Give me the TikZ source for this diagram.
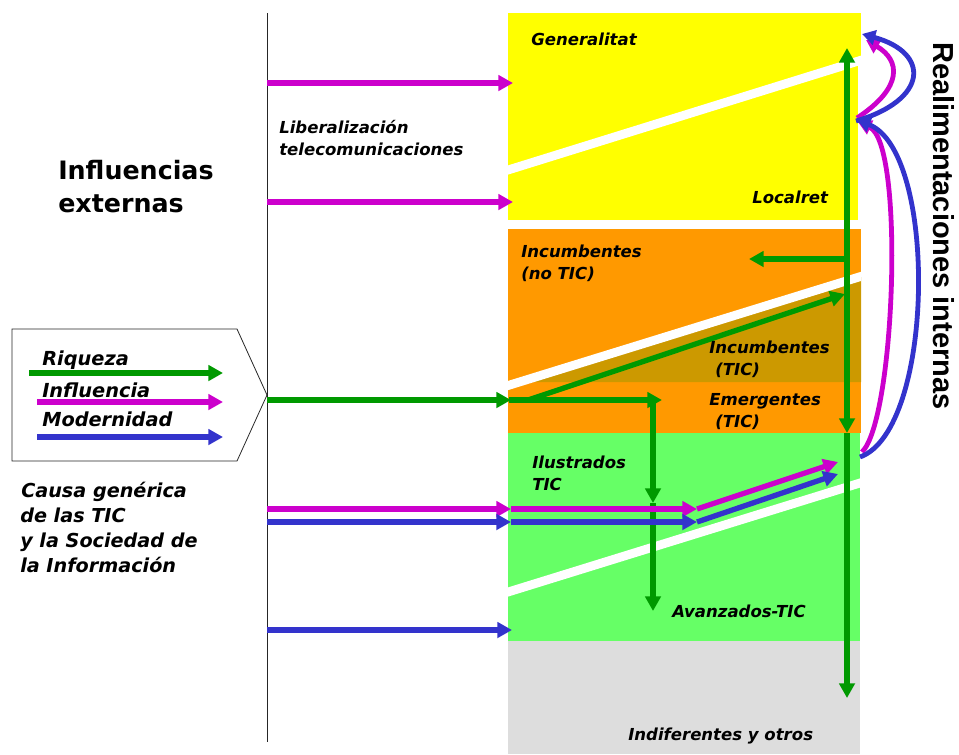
\documentclass[tikz,border=0pt]{standalone}
\usepackage{fontspec}
\setmainfont{DejaVu Sans}[ItalicFont={DejaVu Sans Oblique},BoldFont={DejaVu Sans Bold},BoldItalicFont={DejaVu Sans Bold Oblique}]
\newfontfamily\headfont{Liberation Sans}[UprightFont={Liberation Sans Bold},BoldFont={Liberation Sans Bold}]
\usetikzlibrary{arrows.meta}
\definecolor{cmag}{HTML}{CC00CC}
\definecolor{cblu}{HTML}{3333CC}
\definecolor{cgrn}{HTML}{009900}
\definecolor{cyel}{HTML}{FFFF00}
\definecolor{cora}{HTML}{FF9900}
\definecolor{cdark}{HTML}{CC9900}
\definecolor{clgr}{HTML}{66FF66}
\definecolor{cgry}{HTML}{DDDDDD}
\tikzset{
  lab/.style={font=\fontsize{12.4}{15}\selectfont\bfseries\itshape, inner sep=0pt, anchor=base west},
  leglab/.style={font=\fontsize{14.5}{17}\selectfont\bfseries\itshape, inner sep=0pt, anchor=base west},
  causelab/.style={font=\fontsize{14.4}{17}\selectfont\bfseries\itshape, inner sep=0pt, anchor=base west},
  titlelab/.style={font=\fontsize{19}{22}\selectfont\bfseries, inner sep=0pt, anchor=base west},
  arr/.style={line width=4pt, -{Triangle[length=11pt,width=11.5pt]}},
  curvearr/.style={line width=3.6pt, -{Triangle[length=10pt,width=11pt]}},
  gap/.style={white, line width=6.6pt},
}
\begin{document}
\begin{tikzpicture}[x=0.75pt,y=-0.75pt]
\useasboundingbox (0,0) rectangle (959,754);

% coloured bands
\fill[cyel] (508,13) rectangle (858,220);
\fill[cyel] (858,13) rectangle (861,57);
\fill[cora] (508,229) rectangle (861,433);
\fill[cdark] (519,382) -- (861,382) -- (861,277) -- cycle;
\fill[clgr] (508,433) rectangle (860,641);
\fill[cgry] (508,641) rectangle (860,754);
\begin{scope}
  \clip (508,0) rectangle (861,754);
  \draw[gap] (500,172.5) -- (870,57.4);
  \draw[gap] (500,388) -- (870,273.6);
  \draw[gap] (500,594.5) -- (870,479.9);
\end{scope}

% divider and legend frame
\coordinate (vtop) at (267,13);
\coordinate (vbot) at (267,742);
\draw[line width=0.6pt, black!85] (vtop) -- (vbot);
\draw[line width=0.6pt, black!85] (12,329) -- (237,329) -- (267,395) -- (237,461) -- (12,461) -- cycle;

% legend arrows
\coordinate (lga0) at (29,373);  \coordinate (lga1) at (223,373);
\coordinate (lma0) at (37,402);  \coordinate (lma1) at (223,402);
\coordinate (lba0) at (37,437);  \coordinate (lba1) at (223,437);
\draw[arr, cgrn] (lga0) -- (lga1);
\draw[arr, cmag] (lma0) -- (lma1);
\draw[arr, cblu] (lba0) -- (lba1);

% external influences
\coordinate (lm1) at (267,83);   \coordinate (rm1) at (513,83);
\coordinate (lm2) at (267,202);  \coordinate (rm2) at (513,202);
\coordinate (lg)  at (267,400);  \coordinate (rg)  at (511,400);
\coordinate (lm3) at (267,509);  \coordinate (rm3) at (511,509);
\coordinate (lb3) at (267,522);  \coordinate (rb3) at (511,522);
\coordinate (lb4) at (267,630);  \coordinate (rb4) at (512,630);
\draw[arr, cmag] (lm1) -- (rm1);
\draw[arr, cmag] (lm2) -- (rm2);
\draw[arr, cgrn] (lg) -- (rg);
\draw[arr, cmag] (lm3) -- (rm3);
\draw[arr, cblu] (lb3) -- (rb3);
\draw[arr, cblu] (lb4) -- (rb4);

% wealth flows inside the bands
\coordinate (g0)  at (509,400);  \coordinate (gE)  at (662,400);
\coordinate (gd0) at (528,400);  \coordinate (gd1) at (845,294);
\coordinate (gv0) at (653,400);  \coordinate (gv1) at (653,503);  \coordinate (gv2) at (653,611);
\coordinate (mtop) at (847,48);  \coordinate (mmid) at (847,433); \coordinate (mbot) at (847,698);
\coordinate (mbr) at (847,259);  \coordinate (mbl) at (749,259);
\draw[arr, cgrn] (g0) -- (gE);
\draw[arr, cgrn] (gd0) -- (gd1);
\draw[arr, cgrn] (gv0) -- (gv1);
\draw[arr, cgrn] (gv1) -- (gv2);
\draw[line width=4pt, cgrn, {Triangle[length=11pt,width=11.5pt]}-{Triangle[length=11pt,width=11.5pt]}] (mtop) -- (mmid);
\draw[arr, cgrn] (mmid) -- (mbot);
\draw[arr, cgrn] (mbr) -- (mbl);

% influence and modernity flows inside the bands
\coordinate (mi0) at (511,509);  \coordinate (mi1) at (697,509);  \coordinate (mi2) at (838,462);
\coordinate (bi0) at (511,522);  \coordinate (bi1) at (697,522);  \coordinate (bi2) at (838,474);
\draw[arr, cmag] (mi0) -- (mi1);
\draw[arr, cmag] (mi1) -- (mi2);
\draw[arr, cblu] (bi0) -- (bi1);
\draw[arr, cblu] (bi1) -- (bi2);

% internal feedback loops
\coordinate (cb0) at (860,457);  \coordinate (cb1) at (857,120);
\coordinate (cm0) at (862,452);  \coordinate (cm1) at (858,122);
\coordinate (ub0) at (856,121);  \coordinate (ub1) at (862,34);
\coordinate (um0) at (857,118);  \coordinate (um1) at (866,40);
\draw[curvearr, cmag] (cm0) .. controls (895,420) and (905,143) .. (cm1);
\draw[curvearr, cblu] (cb0) .. controls (935,430) and (938,151) .. (cb1);
\draw[curvearr, cmag] (um0) .. controls (904,87) and (900,60) .. (um1);
\draw[curvearr, cblu] (ub0) .. controls (928,100) and (931,53) .. (ub1);

% band labels
\node[lab] (gen) at (531,45) {Generalitat};
\node[lab] (loc) at (752,203) {Localret};
\node[lab] (incn1) at (521,257) {Incumbentes};
\node[lab] (incn2) at (521,279) {(no TIC)};
\node[lab] (inct1) at (709,353) {Incumbentes};
\node[lab] (inct2) at (715,375) {(TIC)};
\node[lab] (emer1) at (709,405) {Emergentes};
\node[lab] (emer2) at (715,427) {(TIC)};
\node[lab] (ilu1) at (532,468) {Ilustrados};
\node[lab] (ilu2) at (532,490) {TIC};
\node[lab] (ava) at (672,617) {Avanzados-TIC};
\node[lab] (ind) at (628,740) {Indiferentes y otros};
\node[lab] (lib1) at (279,133) {Liberalización};
\node[lab] (lib2) at (279,155) {telecomunicaciones};

% titles
\node[titlelab] (inf1) at (58,179) {Influencias};
\node[titlelab] (inf2) at (58,212) {externas};
\node[inner sep=0pt, anchor=base west, rotate=-90, font=\headfont\fontsize{21.75}{24}\selectfont] (real) at (933,42) {Realimentaciones internas};

% legend labels
\node[leglab] (rq) at (42,365) {Riqueza};
\node[leglab] (inl) at (42,397) {Influencia};
\node[leglab] (mod) at (42,426) {Modernidad};

% cause text
\node[causelab] (c1) at (21,497) {Causa genérica};
\node[causelab] (c2) at (20,522) {de las TIC};
\node[causelab] (c3) at (20,547) {y la Sociedad de};
\node[causelab] (c4) at (20,572) {la Información};
\end{tikzpicture}
\end{document}
